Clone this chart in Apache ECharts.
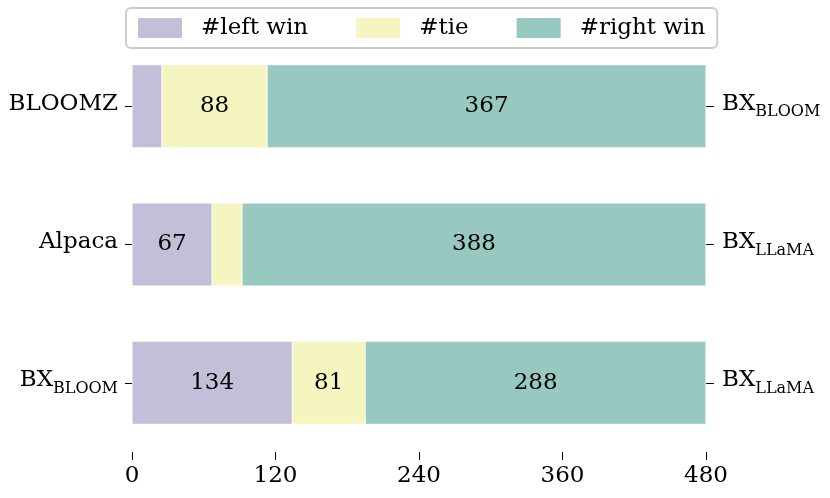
<!DOCTYPE html>
<html>
<head>
<meta charset="utf-8">
<script src="https://cdn.jsdelivr.net/npm/echarts@6/dist/echarts.min.js"></script>
<style>
  html, body { margin: 0; padding: 0; background: #fff; }
  #chart { width: 830px; height: 498px; }
</style>
</head>
<body>
<div id="chart"></div>
<script>
// rows, top to bottom
const leftNames = ['BLOOMZ', 'Alpaca', 'BX_BLOOM'];
const rightNames = ['BX_BLOOM', 'BX_LLaMA', 'BX_LLaMA'];

// bar lengths as drawn
const leftWin = [25, 67, 134];
const tie = [88, 25, 61];
const rightWin = [367, 388, 285];

// numbers written on the bars ('' = no label)
const leftWinLabels = ['', '67', '134'];
const tieLabels = ['88', '', '81'];
const rightWinLabels = ['367', '388', '288'];

const xTicks = [0, 120, 240, 360, 480];

const FONT = 'DejaVu Serif';
const FS = 23;
const colors = ['#c2bfd8', '#f5f5bf', '#97c9c0'];

// "BX_BLOOM" -> rich text with a subscript
function fmtName(name) {
  const p = name.split('_');
  if (p.length < 2) return '{m|' + name + '}';
  return '{m|' + p[0] + '}{s|' + p[1] + '}';
}
const rich = {
  m: { fontFamily: FONT, fontSize: FS, color: '#000', verticalAlign: 'bottom', padding: [0, 0, 5, 0] },
  s: { fontFamily: FONT, fontSize: 16, color: '#000', verticalAlign: 'bottom' }
};

const chart = echarts.init(document.getElementById('chart'));

function barSeries(name, data, labels, color) {
  return {
    name: name,
    type: 'bar',
    stack: 'all',
    barWidth: '60%',
    data: data,
    itemStyle: { color: color, borderColor: '#ffffff', borderWidth: 0.5 },
    label: {
      show: true,
      position: 'inside',
      fontFamily: FONT,
      fontSize: FS,
      color: '#000',
      formatter: p => labels[p.dataIndex]
    }
  };
}

chart.setOption({
  animation: false,
  color: colors,
  textStyle: { fontFamily: FONT },
  legend: {
    top: 8,
    left: 126,
    icon: 'rect',
    itemWidth: 46,
    itemHeight: 22,
    itemGap: 46,
    padding: [8, 12, 8, 10],
    borderColor: '#cccccc',
    borderWidth: 2,
    borderRadius: 5,
    textStyle: { fontFamily: FONT, fontSize: FS, color: '#000', padding: [0, 0, 0, 13] },
    data: ['#left win', '#tie', '#right win']
  },
  grid: { left: 132, right: 124, top: 37, bottom: 46, containLabel: false },
  xAxis: {
    type: 'value',
    min: 0,
    max: 480,
    interval: 120,
    axisLine: { show: false },
    axisTick: { show: true, length: 8, lineStyle: { color: '#000', width: 1 } },
    splitLine: { show: false },
    axisLabel: {
      fontFamily: FONT, fontSize: FS, color: '#000', margin: 13,
      formatter: v => (xTicks.indexOf(v) >= 0 ? String(v) : '')
    }
  },
  yAxis: [
    {
      type: 'category',
      inverse: true,
      data: leftNames,
      axisLine: { show: false },
      axisTick: { show: true, alignWithLabel: true, length: 7, lineStyle: { color: '#000', width: 1 } },
      axisLabel: { margin: 14, formatter: fmtName, rich: rich }
    },
    {
      type: 'category',
      inverse: true,
      position: 'right',
      data: rightNames,
      axisLine: { show: false },
      axisTick: { show: true, alignWithLabel: true, length: 8, lineStyle: { color: '#000', width: 1 } },
      axisLabel: { margin: 16, formatter: fmtName, rich: rich }
    }
  ],
  series: [
    barSeries('#left win', leftWin, leftWinLabels, colors[0]),
    barSeries('#tie', tie, tieLabels, colors[1]),
    barSeries('#right win', rightWin, rightWinLabels, colors[2])
  ]
});
</script>
</body>
</html>
